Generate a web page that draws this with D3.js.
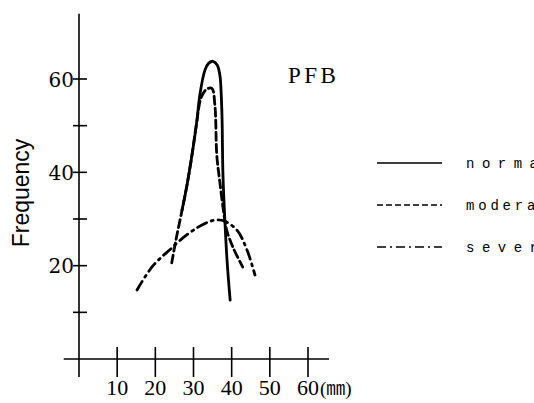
<!DOCTYPE html>
<html>
<head>
<meta charset="utf-8">
<script src="https://cdn.jsdelivr.net/npm/d3@7"></script>
<style>
  body { margin: 0; background: #fff; }
  svg { display: block; }
</style>
</head>
<body>
<svg id="chart" width="534" height="403"></svg>
<script>
// values, [size (mm), frequency]
var normal = [[27.0,31.9],[28.3,37.3],[29.6,43.7],[30.8,50.5],[31.7,56.8],[33.0,61.9],[34.0,63.4],[35.1,63.8],
              [36.2,63.0],[36.9,60.9],[37.3,56.0],[37.5,50.8],[37.7,40.0],[38.2,30.0],[38.8,21.0],[39.6,12.6]];
var moderate = [[24.3,20.6],[25.4,25.5],[27.0,31.9],[28.3,37.3],[29.6,43.7],[30.8,50.5],[32.0,56.0],[33.4,57.8],
                [34.8,58.0],[35.6,54.4],[36.1,43.7],[36.9,37.9],[38.0,30.9],[38.7,27.6],[40.3,24.0],[42.9,19.7]];
var severe = [[15.2,14.8],[17.3,17.6],[19.4,20.0],[21.7,21.9],[23.8,23.4],[27.0,25.8],[30.9,28.1],[34.0,29.4],
              [36.1,29.8],[38.2,29.5],[41.4,27.6],[44.0,23.4],[46.1,18.0]];

var xTicks = [10, 20, 30, 40, 50, 60];
var yTicks = [10, 20, 30, 40, 50, 60];
var yLabels = [20, 40, 60];
var seriesNames = ["normal", "moderate", "severe"];
var seriesDash = ["none", "8,4", "10,5,2,5"];
var legendDash = ["none", "6,3", "9,4,2,4"];
var legendSpacing = [7.5, 3.8, 7.5];

var svg = d3.select("#chart");

var x = d3.scaleLinear().domain([0, 60]).range([79, 308]);
var y = d3.scaleLinear().domain([0, 60]).range([359, 79]);

// axes, drawn like the hand-made original
var axes = svg.append("g").attr("stroke", "#000").attr("stroke-width", 1.6);
axes.append("line").attr("x1", x(-4)).attr("x2", x(65.5)).attr("y1", y(0)).attr("y2", y(0));
axes.append("line").attr("x1", x(0)).attr("x2", x(0)).attr("y1", y(74)).attr("y2", 377);

axes.selectAll(".xt").data(xTicks).enter().append("line")
    .attr("x1", d => x(d)).attr("x2", d => x(d))
    .attr("y1", y(0) - 12).attr("y2", y(0) + 18);

axes.selectAll(".yt").data(yTicks).enter().append("line")
    .attr("x1", x(0) - 6).attr("x2", x(0) + 8)
    .attr("y1", d => y(d)).attr("y2", d => y(d));

svg.selectAll(".xl").data(xTicks).enter().append("text")
    .attr("x", d => x(d)).attr("y", 395)
    .attr("text-anchor", "middle")
    .attr("font-family", "Liberation Serif, serif")
    .attr("font-size", 22)
    .text(d => d);

svg.append("text")
    .attr("x", x(60) + 12).attr("y", 395)
    .attr("font-family", "Liberation Serif, 'Noto Sans CJK JP', serif")
    .attr("font-size", 19)
    .text("(㎜)");

svg.selectAll(".yl").data(yLabels).enter().append("text")
    .attr("x", x(0) - 5).attr("y", d => y(d) + 7.5)
    .attr("text-anchor", "end")
    .attr("font-family", "DejaVu Serif, serif")
    .attr("font-size", 20)
    .text(d => d);

svg.append("text")
    .attr("transform", "translate(29,193) rotate(-90)")
    .attr("text-anchor", "middle")
    .attr("font-family", "Liberation Sans, Arial, sans-serif")
    .attr("font-size", 23)
    .text("Frequency");

svg.append("text")
    .attr("x", 288).attr("y", 83)
    .attr("font-family", "Liberation Serif, serif")
    .attr("font-size", 23)
    .attr("letter-spacing", 3.5)
    .text("PFB");

// curves
var line = d3.line()
    .x(d => x(d[0]))
    .y(d => y(d[1]))
    .curve(d3.curveCatmullRom.alpha(0.5));

var data = [normal, moderate, severe];
svg.append("g").selectAll("path").data(data).enter().append("path")
    .attr("d", line)
    .attr("fill", "none")
    .attr("stroke", "#000")
    .attr("stroke-width", 2.8)
    .attr("stroke-linecap", "round")
    .attr("stroke-dasharray", (d, i) => seriesDash[i]);

// legend
var legendY = [163, 205, 247];
var leg = svg.append("g").selectAll("g").data(seriesNames).enter().append("g");
leg.append("line")
    .attr("x1", 377).attr("x2", 442)
    .attr("y1", (d, i) => legendY[i]).attr("y2", (d, i) => legendY[i])
    .attr("stroke", "#000").attr("stroke-width", 1.4)
    .attr("stroke-dasharray", (d, i) => legendDash[i]);
leg.append("text")
    .attr("x", 466).attr("y", (d, i) => legendY[i] + 5)
    .attr("font-family", "Liberation Mono, monospace")
    .attr("font-size", 14)
    .attr("letter-spacing", (d, i) => legendSpacing[i])
    .text(d => d);
</script>
</body>
</html>
